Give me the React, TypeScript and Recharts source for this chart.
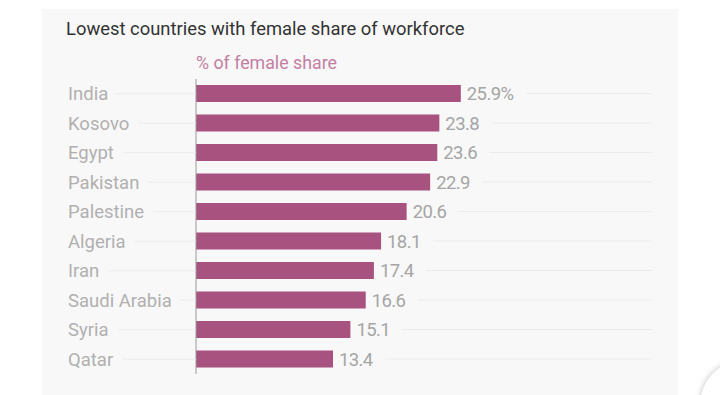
import { BarChart, Bar, XAxis, YAxis, LabelList } from "recharts";

const COUNTRIES = [
  "India",
  "Kosovo",
  "Egypt",
  "Pakistan",
  "Palestine",
  "Algeria",
  "Iran",
  "Saudi Arabia",
  "Syria",
  "Qatar",
];
const FEMALE_SHARE = [25.9, 23.8, 23.6, 22.9, 20.6, 18.1, 17.4, 16.6, 15.1, 13.4];

const data = COUNTRIES.map((name, i) => ({ name, share: FEMALE_SHARE[i] }));

const FONT = "Roboto, 'Noto Sans', sans-serif";
const TICK_SIZE = 18.5;
const VALUE_SIZE = 18.5;
const LABEL_X = 68;
const PLOT_LEFT = 196;
const PLOT_RIGHT = 651;
const GRID = "#ebebeb";

let ctx: CanvasRenderingContext2D | null = null;
function textWidth(text: string, size: number) {
  if (!ctx) ctx = document.createElement("canvas").getContext("2d");
  if (!ctx) return text.length * size * 0.5;
  ctx.font = `${size}px Roboto`;
  return ctx.measureText(text).width;
}

function CountryTick({ y, payload }: { y?: number; payload?: { value: string } }) {
  const label = payload?.value ?? "";
  const w = textWidth(label, TICK_SIZE);
  return (
    <g>
      <line x1={LABEL_X + w + 9} x2={PLOT_LEFT} y1={y} y2={y} stroke={GRID} strokeWidth={1} />
      <text
        x={LABEL_X}
        y={y}
        dy="0.36em"
        textAnchor="start"
        fill="#b0b0b0"
        fontSize={TICK_SIZE}
        fontFamily={FONT}
      >
        {label}
      </text>
    </g>
  );
}

function ValueLabel(props: any) {
  const { x, y, width, height, value, index } = props;
  const text = index === 0 ? `${value}%` : `${value}`;
  const tx = Number(x) + Number(width) + 6;
  const cy = Number(y) + Number(height) / 2;
  const w = textWidth(text, VALUE_SIZE);
  return (
    <g>
      <line x1={tx + w + 10} x2={PLOT_RIGHT} y1={cy} y2={cy} stroke={GRID} strokeWidth={1} />
      <text
        x={tx}
        y={cy}
        dy="0.36em"
        fill="#a5a5a5"
        fontSize={VALUE_SIZE}
        fontFamily={FONT}
        letterSpacing={-0.6}
      >
        {text}
      </text>
    </g>
  );
}

export default function App() {
  return (
    <div
      style={{
        position: "absolute",
        left: 0,
        top: 0,
        width: 720,
        height: 395,
        background: "#fff",
        overflow: "hidden",
        fontFamily: FONT,
      }}
    >
      <div
        style={{
          position: "absolute",
          left: 42,
          top: 9,
          width: 636,
          height: 386,
          background: "#f8f8f8",
        }}
      />
      <div
        style={{
          position: "absolute",
          left: 66,
          top: 18,
          fontSize: 18.4,
          color: "#333",
          whiteSpace: "nowrap",
        }}
      >
        Lowest countries with female share of workforce
      </div>
      <div
        style={{
          position: "absolute",
          left: 196,
          top: 52,
          fontSize: 17.8,
          color: "#c27fa3",
          whiteSpace: "nowrap",
        }}
      >
        % of female share
      </div>
      <div style={{ position: "absolute", left: 0, top: 0 }}>
        <BarChart
          width={720}
          height={395}
          data={data}
          layout="vertical"
          margin={{ top: 79, right: 720 - PLOT_RIGHT, bottom: 21, left: 0 }}
        >
          <XAxis type="number" domain={[0, 44.5]} hide />
          <YAxis
            type="category"
            dataKey="name"
            width={PLOT_LEFT}
            tickLine={false}
            axisLine={{ stroke: "#9a9a9a" }}
            tick={<CountryTick />}
            interval={0}
          />
          <Bar dataKey="share" fill="#a8527f" barSize={17} isAnimationActive={false}>
            <LabelList dataKey="share" content={<ValueLabel />} />
          </Bar>
        </BarChart>
      </div>
      <div
        style={{
          position: "absolute",
          left: 700,
          top: 360,
          width: 90,
          height: 90,
          borderRadius: "50%",
          background: "#fff",
          boxShadow: "0 0 6px rgba(0,0,0,0.25)",
        }}
      />
    </div>
  );
}
